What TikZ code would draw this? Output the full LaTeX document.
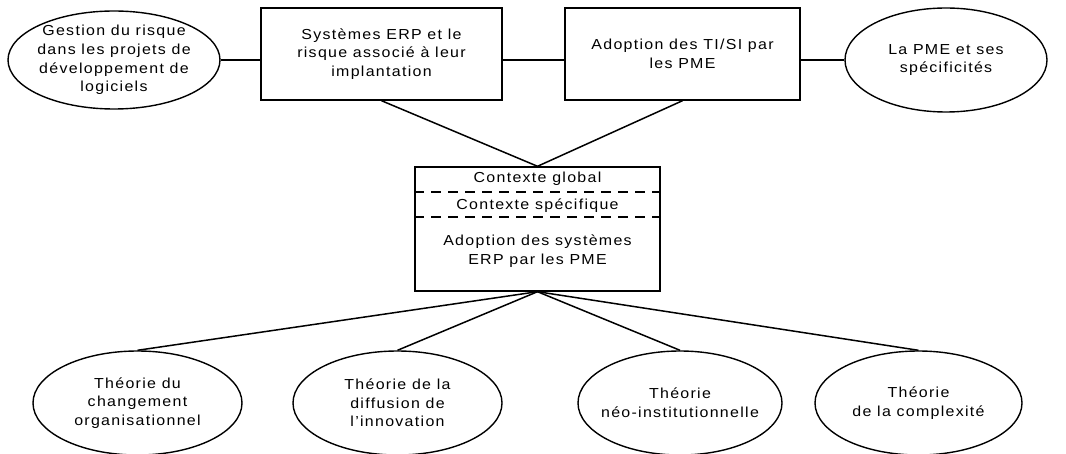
\documentclass[tikz,border=0pt]{standalone}
\usepackage{fontspec}
\setmainfont[LetterSpace=9,FakeStretch=1.1]{Liberation Sans}
\usetikzlibrary{shapes.geometric}

\begin{document}
\begin{tikzpicture}[x=1pt,y=-1pt,
  every node/.style={font=\fontsize{14.5}{18.7}\selectfont, align=center},
  link/.style={line width=1.5pt},
  oval/.style={draw, ellipse, line width=1.4pt, inner sep=0pt},
  frame/.style={draw, rectangle, line width=1.4pt, inner sep=0pt},
  splitline/.style={line width=1.3pt, dash pattern=on 10pt off 7pt}]

\useasboundingbox (0,0) rectangle (1066,454);

% top row: two themes in boxes, two in ovals
\node[oval, minimum width=212, minimum height=98,
  label={center:Gestion du risque\\dans les projets de\\développement de\\logiciels}]
  (gestion) at (114,60) {};
\node[frame, minimum width=241, minimum height=92,
  label={center:Systèmes ERP et le\\risque associé à leur\\implantation}]
  (erp) at (381.5,54) {};
\node[frame, minimum width=235, minimum height=92,
  label={center:Adoption des TI/SI par\\les PME}]
  (tisi) at (682.5,54) {};
\node[oval, minimum width=202, minimum height=104,
  label={center:La PME et ses\\spécificités}]
  (pme) at (946,60) {};

% central box with its three layers
\node[frame, minimum width=245, minimum height=124] (adopt) at (537.5,229) {};
\node (glob) at (537.5,179) {Contexte global};
\node (spec) at (537.5,206) {Contexte spécifique};
\node (adtxt) at (537.5,251) {Adoption des systèmes\\ERP par les PME};
\coordinate (d1) at (0,192);
\coordinate (d2) at (0,217);
\draw[splitline] (adopt.west |- d1) -- (adopt.east |- d1);
\draw[splitline] (adopt.west |- d2) -- (adopt.east |- d2);

% bottom row: theories
\node[oval, minimum width=209, minimum height=104,
  label={center:Théorie du\\changement\\organisationnel}]
  (t1) at (137.5,403) {};
\node[oval, minimum width=209, minimum height=104,
  label={center:Théorie de la\\diffusion de\\l’innovation}]
  (t2) at (397.5,403) {};
\node[oval, minimum width=204, minimum height=104,
  label={center:Théorie\\néo-institutionnelle}]
  (t3) at (680,403) {};
\node[oval, minimum width=207, minimum height=104,
  label={center:Théorie\\de la complexité}]
  (t4) at (918.5,403) {};

% connectors
\draw[link] (gestion) -- (gestion -| erp.west);
\draw[link] (erp.east |- gestion) -- (tisi.west |- gestion);
\draw[link] (tisi.east |- pme) -- (pme);
\draw[link] (erp.south) -- (adopt.north);
\draw[link] (tisi.south) -- (adopt.north);
\draw[link] (adopt.south) -- (t1.north);
\draw[link] (adopt.south) -- (t2.north);
\draw[link] (adopt.south) -- (t3.north);
\draw[link] (adopt.south) -- (t4.north);
\end{tikzpicture}
\end{document}
